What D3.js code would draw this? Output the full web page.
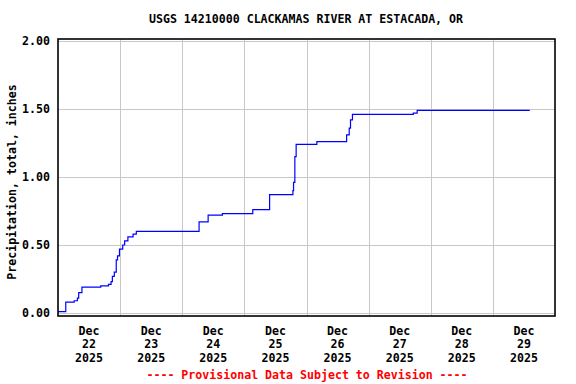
<!DOCTYPE html>
<html>
<head>
<meta charset="utf-8">
<script src="https://cdn.jsdelivr.net/npm/d3@7"></script>
<style>
  body { margin: 0; background: #fff; }
  text { font-family: "DejaVu Sans Mono", monospace; font-weight: bold; }
</style>
</head>
<body>
<div id="container"></div>
<script>
// chart data
const chartTitle = "USGS 14210000 CLACKAMAS RIVER AT ESTACADA, OR";
const yLabel = "Precipitation, total, inches";
const footNote = "---- Provisional Data Subject to Revision ----";

// time of each step (local) and cumulative precip after it
const stepTimes = [
  "2025-12-22T00:00", "2025-12-22T03:00", "2025-12-22T06:15", "2025-12-22T07:30",
  "2025-12-22T08:00", "2025-12-22T09:15", "2025-12-22T16:30", "2025-12-22T19:30",
  "2025-12-22T20:30", "2025-12-22T21:00", "2025-12-22T21:45", "2025-12-22T22:30",
  "2025-12-22T23:00", "2025-12-22T23:45", "2025-12-23T01:00", "2025-12-23T01:45",
  "2025-12-23T03:00", "2025-12-23T05:00", "2025-12-23T06:15", "2025-12-24T06:30",
  "2025-12-24T10:00", "2025-12-24T15:30", "2025-12-25T03:15", "2025-12-25T09:45",
  "2025-12-25T18:45", "2025-12-25T19:00", "2025-12-25T19:30", "2025-12-25T20:00",
  "2025-12-26T04:00", "2025-12-26T15:30", "2025-12-26T16:30", "2025-12-26T17:00",
  "2025-12-26T17:45", "2025-12-27T17:15", "2025-12-27T18:45", "2025-12-29T14:15"
];
const precipValues = [
  0.01, 0.08, 0.09, 0.11,
  0.15, 0.19, 0.20, 0.21,
  0.23, 0.27, 0.30, 0.39,
  0.42, 0.47, 0.50, 0.53,
  0.56, 0.58, 0.60, 0.67,
  0.72, 0.73, 0.76, 0.87,
  0.90, 0.96, 1.15, 1.24,
  1.26, 1.31, 1.36, 1.42,
  1.46, 1.47, 1.49, 1.49
];

const yTicks = [0, 0.5, 1.0, 1.5, 2.0];
const dayTicks = ["2025-12-22", "2025-12-23", "2025-12-24", "2025-12-25",
                  "2025-12-26", "2025-12-27", "2025-12-28", "2025-12-29"];
const xStart = "2025-12-22T00:00", xEnd = "2025-12-30T00:00";

const width = 576, height = 384;
const plot = { left: 58, right: 555, top: 39, bottom: 316 };
const fontSize = "11.6px";

const parse = d3.timeParse("%Y-%m-%dT%H:%M");
const parseDay = d3.timeParse("%Y-%m-%d");
const data = stepTimes.map((t, i) => ({ t: parse(t), v: precipValues[i] }));

const svg = d3.select("#container").append("svg")
  .attr("width", width).attr("height", height);

const x = d3.scaleTime()
  .domain([parse(xStart), parse(xEnd)])
  .range([plot.left, plot.right]);

const y = d3.scaleLinear()
  .domain([0, 2])
  .range([313, 41]);

// gridlines
svg.append("g").selectAll("line.vg")
  .data(dayTicks.slice(1).map(parseDay))
  .join("line")
  .attr("x1", d => Math.round(x(d)) + 0.5).attr("x2", d => Math.round(x(d)) + 0.5)
  .attr("y1", plot.top).attr("y2", plot.bottom)
  .attr("stroke", "#c8c8c8");

svg.append("g").selectAll("line.hg")
  .data(yTicks)
  .join("line")
  .attr("x1", plot.left).attr("x2", plot.right)
  .attr("y1", d => Math.round(y(d)) + 0.5).attr("y2", d => Math.round(y(d)) + 0.5)
  .attr("stroke", "#c8c8c8");

// the series
const line = d3.line()
  .x(d => x(d.t))
  .y(d => y(d.v))
  .curve(d3.curveStepAfter);

svg.append("path")
  .datum(data)
  .attr("d", line)
  .attr("fill", "none")
  .attr("stroke", "#0000ff")
  .attr("stroke-width", 1.2);

// frame
svg.append("rect")
  .attr("x", plot.left).attr("y", plot.top)
  .attr("width", plot.right - plot.left).attr("height", plot.bottom - plot.top)
  .attr("fill", "none").attr("stroke", "#000").attr("stroke-width", 1.6);

// y tick labels
svg.append("g").selectAll("text")
  .data(yTicks)
  .join("text")
  .attr("x", 50).attr("y", d => y(d) + 4)
  .attr("text-anchor", "end")
  .attr("font-size", fontSize)
  .text(d3.format(".2f"));

// x tick labels, centred on noon
const xl = svg.append("g").selectAll("text")
  .data(dayTicks.map(parseDay))
  .join("text")
  .attr("text-anchor", "middle")
  .attr("font-size", fontSize);
xl.each(function(d) {
  const cx = x(d3.timeHour.offset(d, 12));
  const parts = [d3.timeFormat("%b")(d), d3.timeFormat("%d")(d), d3.timeFormat("%Y")(d)];
  d3.select(this).selectAll("tspan")
    .data(parts)
    .join("tspan")
    .attr("x", cx)
    .attr("y", (p, i) => 335 + i * 13.4)
    .text(p => p);
});

// title
svg.append("text")
  .attr("x", 306).attr("y", 23)
  .attr("text-anchor", "middle")
  .attr("font-size", fontSize)
  .text(chartTitle);

// y axis label
svg.append("text")
  .attr("transform", "translate(16,182) rotate(-90)")
  .attr("text-anchor", "middle")
  .attr("font-size", fontSize)
  .text(yLabel);

// footnote
svg.append("text")
  .attr("x", 307).attr("y", 379)
  .attr("text-anchor", "middle")
  .attr("font-size", fontSize)
  .attr("fill", "#ff0000")
  .text(footNote);
</script>
</body>
</html>
